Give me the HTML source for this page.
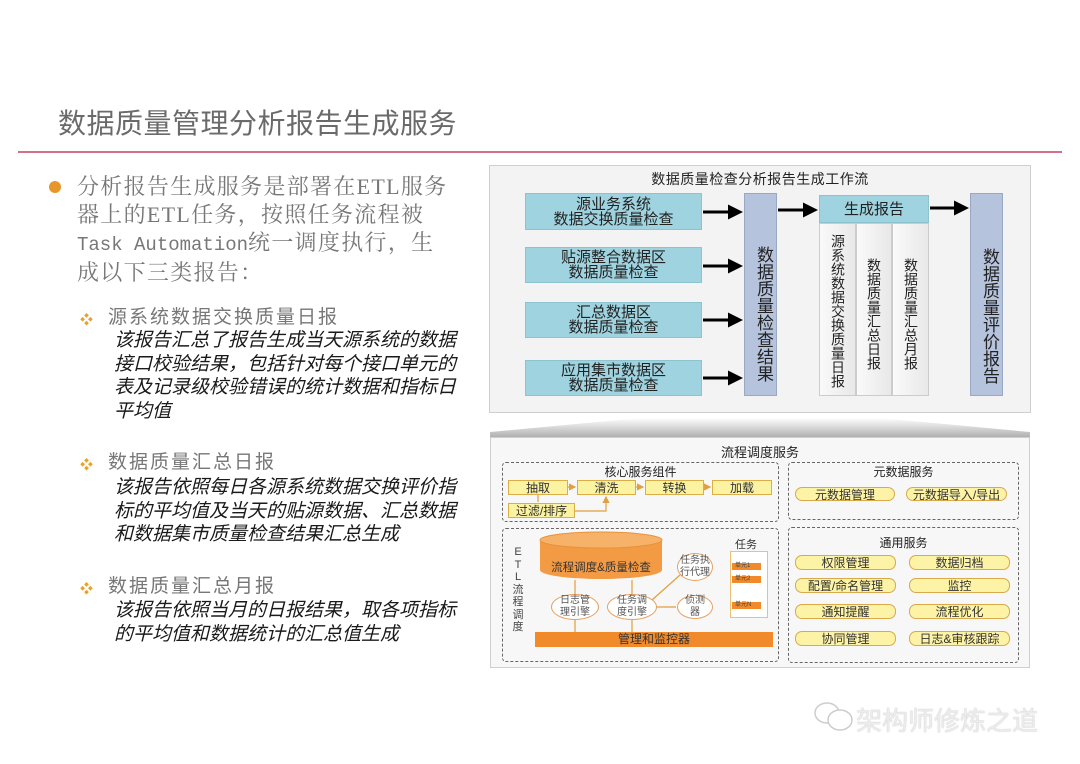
<!DOCTYPE html>
<html><head><meta charset="utf-8">
<style>
*{margin:0;padding:0;box-sizing:border-box}
body{width:1080px;height:764px;background:#fff;position:relative;overflow:hidden;font-family:"Liberation Sans","Noto Sans CJK SC",sans-serif}
.a{position:absolute}
.t{white-space:nowrap}
.lb{background:#9fd3df;border:1px solid #8cc3cf;color:#222;font-size:15px;line-height:15px;text-align:center;display:flex;align-items:center;justify-content:center}
.vc{background:#b5c3dc;border:1px solid #9aa9c3;display:flex;justify-content:center;padding-top:38px;font-size:17px;color:#222;writing-mode:vertical-rl;text-orientation:upright;letter-spacing:0}
.sc{background:linear-gradient(90deg,#fafafa,#e8e8e8);border:1px solid #ccc;writing-mode:vertical-rl;text-orientation:upright;font-size:14px;color:#222;line-height:34px;text-align:left;white-space:nowrap}
.y{background:#fbf3a2;border:1px solid #dcae48;font-size:12px;color:#333;text-align:center;display:flex;align-items:center;justify-content:center}
.yb{background:#fcf3a6;border:1.5px solid #d9a94a;border-radius:7px;font-size:12px;color:#333;display:flex;align-items:center;justify-content:center}
.d{border:1.3px dashed #666;border-radius:4px}
.el{background:#fff;border:1px solid #e6a060;border-radius:50%;font-size:10px;color:#555;text-align:center;display:flex;align-items:center;justify-content:center;line-height:12px}
.it{font-style:italic;font-size:19px;color:#1a1a1a;line-height:23.5px;left:114px}
.h{font-size:19px;color:#777;letter-spacing:2px;left:108px;line-height:20px}
.dm{left:80px;color:#e8a030;font-size:13px}
</style></head><body>

<div class="a t" style="left:58px;top:102px;font-size:28px;color:#6a6a6a;letter-spacing:0.5px">数据质量管理分析报告生成服务</div>
<div class="a" style="left:18px;top:151px;width:1044px;height:2px;background:#d2708a"></div>

<div class="a" style="left:49px;top:181px;width:12px;height:12px;border-radius:50%;background:#e8962a"></div>
<div class="a t" style="left:77px;top:173px;font-size:22px;color:#777;letter-spacing:1.3px;line-height:28px;font-family:'Liberation Serif','Noto Serif CJK SC',serif">
分析报告生成服务是部署在ETL服务<br>器上的ETL任务，按照任务流程被<br><span style="font-family:'Liberation Mono',monospace;font-size:19px;letter-spacing:0">Task Automation</span>统一调度执行，生<br>成以下三类报告：</div>

<div class="a dm" style="top:309px">❖</div>
<div class="a t h" style="top:308px">源系统数据交换质量日报</div>
<div class="a t it" style="top:329px">该报告汇总了报告生成当天源系统的数据<br>接口校验结果，包括针对每个接口单元的<br>表及记录级校验错误的统计数据和指标日<br>平均值</div>

<div class="a dm" style="top:454px">❖</div>
<div class="a t h" style="top:453px">数据质量汇总日报</div>
<div class="a t it" style="top:476px">该报告依照每日各源系统数据交换评价指<br>标的平均值及当天的贴源数据、汇总数据<br>和数据集市质量检查结果汇总生成</div>

<div class="a dm" style="top:578px">❖</div>
<div class="a t h" style="top:577px">数据质量汇总月报</div>
<div class="a t it" style="top:599px">该报告依照当月的日报结果，取各项指标<br>的平均值和数据统计的汇总值生成</div>

<!-- top panel -->
<div class="a" style="left:489px;top:165px;width:542px;height:248px;background:#f3f3f3;border:1px solid #cfcfcf"></div>
<div class="a t" style="left:489px;width:542px;top:169px;text-align:center;font-size:14px;color:#222;letter-spacing:0.5px">数据质量检查分析报告生成工作流</div>
<div class="a lb" style="left:525px;top:193px;width:177px;height:37px">源业务系统<br>数据交换质量检查</div>
<div class="a lb" style="left:525px;top:247px;width:177px;height:36px">贴源整合数据区<br>数据质量检查</div>
<div class="a lb" style="left:525px;top:302px;width:177px;height:36px">汇总数据区<br>数据质量检查</div>
<div class="a lb" style="left:525px;top:360px;width:177px;height:36px">应用集市数据区<br>数据质量检查</div>
<div class="a vc" style="left:744px;top:193px;width:33px;height:203px">数据质量检查结果</div>
<div class="a lb" style="left:819px;top:195px;width:110px;height:28px;font-size:15px">生成报告</div>
<div class="a sc" style="left:819px;top:223px;width:37px;height:173px;padding-top:10px">源系统数据交换质量日报</div>
<div class="a sc" style="left:856px;top:223px;width:36px;height:173px;padding-top:34px">数据质量汇总日报</div>
<div class="a sc" style="left:892px;top:223px;width:37px;height:173px;padding-top:34px">数据质量汇总月报</div>
<div class="a vc" style="left:970px;top:193px;width:33px;height:203px;padding-top:42px">数据质量评价报告</div>

<svg class="a" style="left:0;top:0" width="1080" height="764">
<defs><marker id="ar" markerWidth="5" markerHeight="5" refX="4" refY="2.5" orient="auto"><path d="M0,0L5,2.5L0,5z" fill="#000"/></marker>
<marker id="ao" markerWidth="6" markerHeight="6" refX="5" refY="3" orient="auto"><path d="M0,0L6,3L0,6z" fill="#e0a040"/></marker>
<linearGradient id="g1" x1="0" y1="0" x2="0" y2="1"><stop offset="0" stop-color="#fff"/><stop offset="1" stop-color="#b0b0b0"/></linearGradient></defs>
<g stroke="#000" stroke-width="3" marker-end="url(#ar)">
<line x1="703" y1="212" x2="740" y2="212"/><line x1="703" y1="266" x2="740" y2="266"/>
<line x1="703" y1="320" x2="740" y2="320"/><line x1="703" y1="378" x2="740" y2="378"/>
<line x1="778" y1="210" x2="815" y2="210"/><line x1="930" y1="208" x2="966" y2="208"/>
</g>
<polygon points="490,432 640,418 880,418 1030,432 1030,437 490,437" fill="url(#g1)"/>
</svg>

<!-- bottom panel -->
<div class="a" style="left:490px;top:437px;width:540px;height:231px;background:#f7f7f7;border:1px solid #cfcfcf"></div>
<div class="a t" style="left:490px;width:540px;top:442px;text-align:center;font-size:13px;color:#222">流程调度服务</div>

<div class="a d" style="left:502px;top:462px;width:277px;height:60px"></div>
<div class="a t" style="left:502px;width:277px;top:463px;text-align:center;font-size:12px;color:#222">核心服务组件</div>
<div class="a y" style="left:508px;top:480px;width:60px;height:15px">抽取</div>
<div class="a y" style="left:577px;top:480px;width:59px;height:15px">清洗</div>
<div class="a y" style="left:645px;top:480px;width:59px;height:15px">转换</div>
<div class="a y" style="left:712px;top:480px;width:60px;height:15px">加载</div>
<div class="a y" style="left:508px;top:503px;width:67px;height:15px">过滤/排序</div>

<div class="a d" style="left:788px;top:462px;width:231px;height:58px"></div>
<div class="a t" style="left:788px;width:231px;top:463px;text-align:center;font-size:12px;color:#222">元数据服务</div>
<div class="a yb" style="left:795px;top:487px;width:100px;height:14px">元数据管理</div>
<div class="a yb" style="left:906px;top:487px;width:101px;height:14px">元数据导入/导出</div>

<div class="a d" style="left:788px;top:527px;width:231px;height:136px"></div>
<div class="a t" style="left:788px;width:231px;top:534px;text-align:center;font-size:12px;color:#222">通用服务</div>
<div class="a yb" style="left:795px;top:555px;width:101px;height:15px">权限管理</div>
<div class="a yb" style="left:909px;top:555px;width:101px;height:15px">数据归档</div>
<div class="a yb" style="left:795px;top:578px;width:101px;height:15px">配置/命名管理</div>
<div class="a yb" style="left:909px;top:578px;width:101px;height:15px">监控</div>
<div class="a yb" style="left:795px;top:604px;width:101px;height:15px">通知提醒</div>
<div class="a yb" style="left:909px;top:604px;width:101px;height:15px">流程优化</div>
<div class="a yb" style="left:795px;top:631px;width:101px;height:15px">协同管理</div>
<div class="a yb" style="left:909px;top:631px;width:101px;height:15px">日志&amp;审核跟踪</div>

<div class="a d" style="left:502px;top:528px;width:277px;height:134px"></div>
<div class="a" style="left:512px;top:546px;width:12px;font-size:11px;color:#444;line-height:12.5px;text-align:center">E<br>T<br>L<br>流<br>程<br>调<br>度</div>

<svg class="a" style="left:0;top:0" width="1080" height="764">
<g stroke="#e0a040" stroke-width="1.2" fill="none">
<line x1="568" y1="487" x2="575" y2="487" marker-end="url(#ao)"/>
<line x1="636" y1="487" x2="643" y2="487" marker-end="url(#ao)"/>
<line x1="704" y1="487" x2="710" y2="487" marker-end="url(#ao)"/>
<line x1="538" y1="495" x2="538" y2="502"/>
<polyline points="575,511 606,511 606,497" marker-end="url(#ao)"/>
<line x1="575" y1="580" x2="575" y2="594"/><line x1="632" y1="580" x2="632" y2="594"/>
<line x1="575" y1="620" x2="575" y2="632"/><line x1="632" y1="620" x2="632" y2="632"/>
<line x1="652" y1="600" x2="680" y2="575"/><line x1="657" y1="607" x2="676" y2="607"/>
</g>
<path d="M540,540 L540,570 A61,9 0 0 0 662,570 L662,540 Z" fill="#f39a45"/>
<ellipse cx="601" cy="540" rx="61" ry="8" fill="#f7b26a" stroke="#e8913a"/>
</svg>
<div class="a t" style="left:540px;width:122px;top:559px;text-align:center;font-size:11.5px;color:#333">流程调度&amp;质量检查</div>
<div class="a el" style="left:551px;top:594px;width:48px;height:26px">日志管<br>理引擎</div>
<div class="a el" style="left:607px;top:594px;width:50px;height:26px">任务调<br>度引擎</div>
<div class="a el" style="left:677px;top:553px;width:36px;height:28px">任务执<br>行代理</div>
<div class="a el" style="left:677px;top:595px;width:36px;height:24px">侦测<br>器</div>
<div class="a" style="left:535px;top:632px;width:238px;height:15px;background:#f08a2a;font-size:12px;color:#333;text-align:center;line-height:15px">管理和监控器</div>
<div class="a t" style="left:735px;top:536px;font-size:11px;color:#333">任务</div>
<div class="a" style="left:730px;top:551px;width:38px;height:67px;background:#fff;border:1.5px solid #efc070"></div>
<div class="a" style="left:732px;top:563px;width:29px;height:7px;background:#f08a2a;font-size:6px;color:#444;line-height:7px;padding-left:3px">单元1</div>
<div class="a" style="left:732px;top:576px;width:29px;height:7px;background:#f08a2a;font-size:6px;color:#444;line-height:7px;padding-left:3px">单元2</div>
<div class="a" style="left:732px;top:602px;width:29px;height:7px;background:#f08a2a;font-size:6px;color:#444;line-height:7px;padding-left:3px">单元N</div>

<!-- watermark -->
<svg class="a" style="left:812px;top:700px" width="46" height="36"><g fill="none" stroke="#ccc" stroke-width="1.5"><ellipse cx="15" cy="13" rx="12" ry="10"/><ellipse cx="28" cy="20" rx="12" ry="10" fill="#fff"/></g></svg>
<div class="a t" style="left:856px;top:701px;font-size:26px;color:#ececec;text-shadow:0 0 1px #aaa">架构师修炼之道</div>
</body></html>
